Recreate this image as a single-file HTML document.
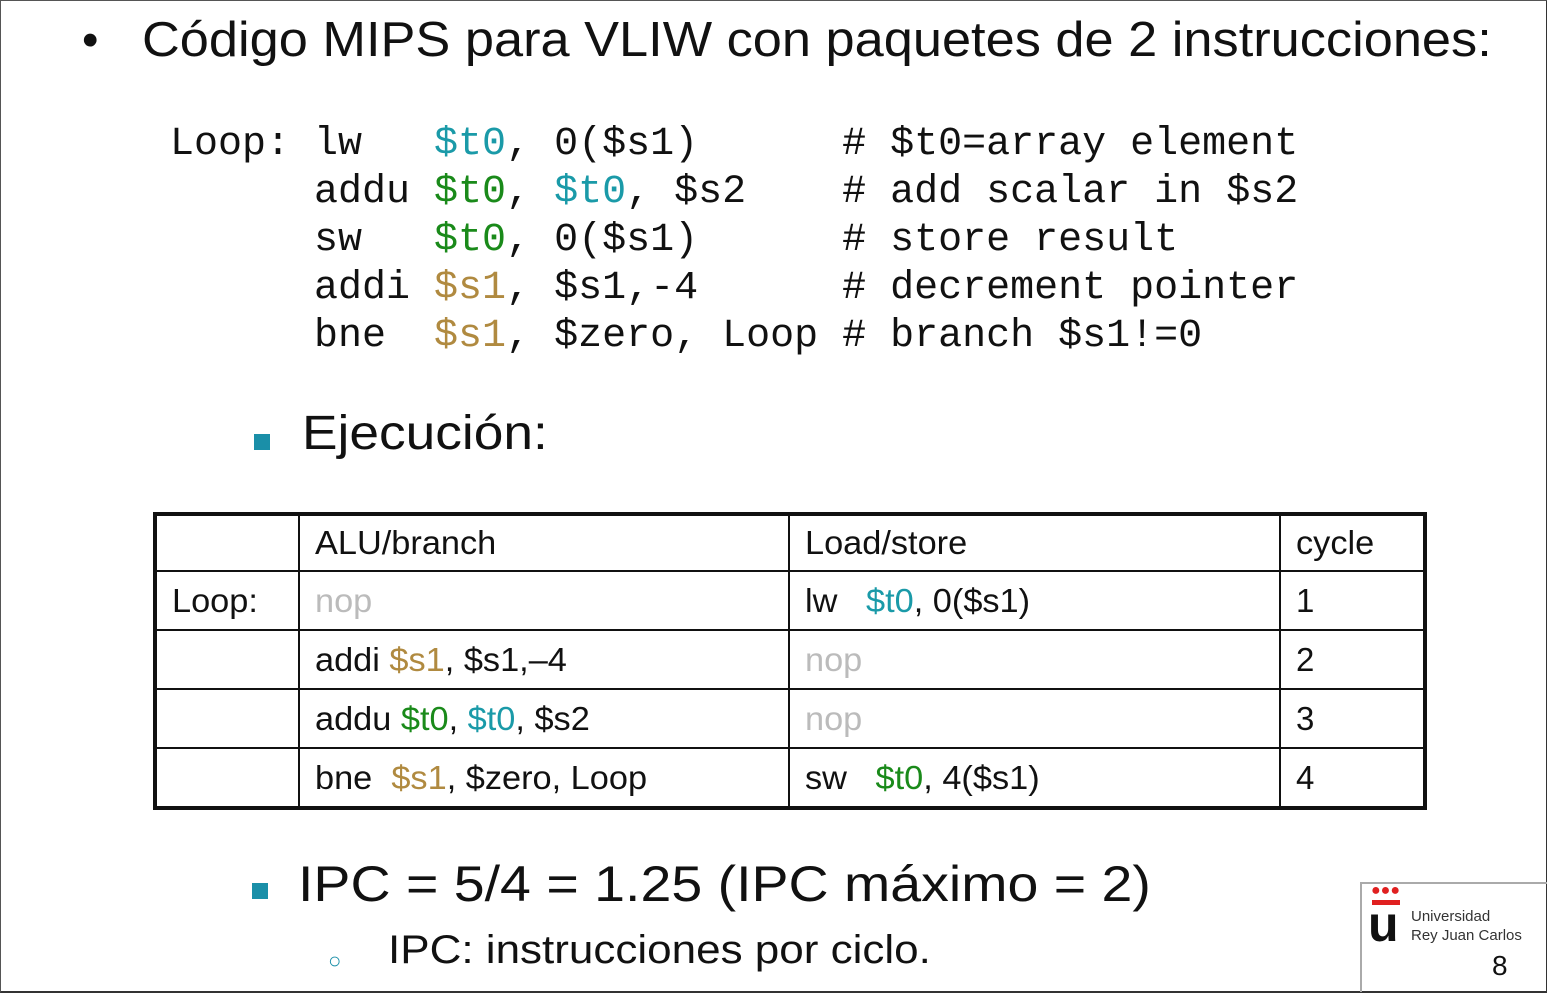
<!DOCTYPE html>
<html><head><meta charset="utf-8"><style>
body{margin:0;width:1547px;height:992px;background:#fff;position:relative;overflow:hidden;font-family:"Liberation Sans",sans-serif;color:#111}
.a{position:absolute;white-space:pre;transform-origin:0 0}
.code{font-family:"Liberation Mono",monospace;font-size:40px;line-height:48px}
.c{color:#1a9aa8}.g{color:#1a8a1a}.o{color:#b08a40}.n{color:#bbb}
table{position:absolute;left:153px;top:512px;border-collapse:collapse;border:4px solid #111;font-size:33px}
td{border:2px solid #111;height:57px;padding:0 0 0 15px;vertical-align:middle}
tr.h td{height:54px}
td span.w{display:inline-block;transform:scaleX(1.04);transform-origin:0 0;white-space:pre}
</style></head><body>
<div style="position:absolute;left:0;top:0;width:1545px;height:990px;border:1px solid #555;border-right:2px solid #333;border-bottom:2px solid #333"></div>
<div class="a" style="left:82px;top:12px;font-size:47px">•</div>
<div class="a" style="left:142px;top:12px;font-size:49px;transform:scaleX(1.068)">Código MIPS para VLIW con paquetes de 2 instrucciones:</div>
<div class="a code" style="left:170px;top:121px">Loop: lw   <span class="c">$t0</span>, 0($s1)      # $t0=array element
      addu <span class="g">$t0</span>, <span class="c">$t0</span>, $s2    # add scalar in $s2
      sw   <span class="g">$t0</span>, 0($s1)      # store result
      addi <span class="o">$s1</span>, $s1,-4      # decrement pointer
      bne  <span class="o">$s1</span>, $zero, Loop # branch $s1!=0</div>
<div style="position:absolute;left:254px;top:434px;width:16px;height:16px;background:#1a8fa8"></div>
<div class="a" style="left:302px;top:406px;font-size:48px;transform:scaleX(1.11)">Ejecución:</div>
<table>
<colgroup><col style="width:144px"><col style="width:490px"><col style="width:491px"><col style="width:145px"></colgroup>
<tr class="h"><td></td><td><span class="w">ALU/branch</span></td><td><span class="w">Load/store</span></td><td><span class="w">cycle</span></td></tr>
<tr><td><span class="w">Loop:</span></td><td class="n"><span class="w">nop</span></td><td><span class="w">lw   <span class="c">$t0</span>, 0($s1)</span></td><td>1</td></tr>
<tr><td></td><td><span class="w">addi <span class="o">$s1</span>, $s1,–4</span></td><td class="n"><span class="w">nop</span></td><td>2</td></tr>
<tr><td></td><td><span class="w">addu <span class="g">$t0</span>, <span class="c">$t0</span>, $s2</span></td><td class="n"><span class="w">nop</span></td><td>3</td></tr>
<tr><td></td><td><span class="w">bne  <span class="o">$s1</span>, $zero, Loop</span></td><td><span class="w">sw   <span class="g">$t0</span>, 4($s1)</span></td><td>4</td></tr>
</table>
<div style="position:absolute;left:252px;top:883px;width:16px;height:16px;background:#1a8fa8"></div>
<div class="a" style="left:298px;top:855px;font-size:50px;transform:scaleX(1.11)">IPC = 5/4 = 1.25 (IPC máximo = 2)</div>
<div class="a" style="left:328px;top:948px;font-size:22px;color:#1a8fa8">○</div>
<div class="a" style="left:388px;top:928px;font-size:40px;transform:scaleX(1.1)">IPC: instrucciones por ciclo.</div>
<div style="position:absolute;left:1360px;top:882px;width:187px;height:2px;background:#aaa"></div>
<div style="position:absolute;left:1360px;top:882px;width:2px;height:110px;background:#aaa"></div>
<div class="a" style="left:1371px;top:882px;font-size:16px;color:#e02020">●●●</div>
<div style="position:absolute;left:1372px;top:900px;width:28px;height:5px;background:#e02020"></div>
<div class="a" style="left:1368px;top:895px;font-size:50px;font-weight:bold">u</div>
<div class="a" style="left:1411px;top:908px;font-size:15px;color:#333">Universidad</div>
<div class="a" style="left:1411px;top:927px;font-size:15px;color:#333">Rey Juan Carlos</div>
<div class="a" style="left:1492px;top:950px;font-size:28px">8</div>
</body></html>
